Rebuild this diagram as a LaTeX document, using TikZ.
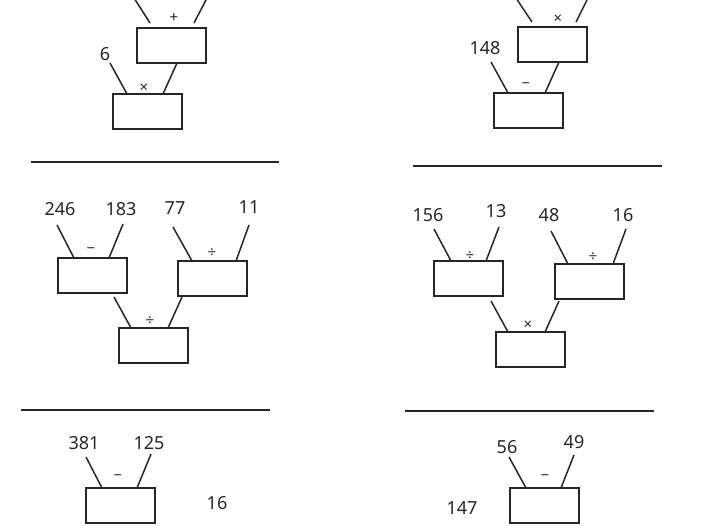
\documentclass[tikz,border=0pt]{standalone}
\usepackage{fontspec}
\setmainfont{Noto Sans}
\begin{document}
\begin{tikzpicture}[x=1pt,y=-1pt,
  numlbl/.style={font=\fontsize{18}{18}\selectfont, inner sep=0pt, text=black!85},
  oplbl/.style={font=\fontsize{15}{15}\selectfont, inner sep=0pt, text=black!85},
  ansbox/.style={draw=black!85, line width=1.7pt, minimum width=69pt, minimum height=35pt, inner sep=0pt},
  conn/.style={draw=black!85, line width=1.5pt},
  rule/.style={draw=black!85, line width=1.4pt}]
\useasboundingbox (0,0) rectangle (701,526);
\clip (0,0) rectangle (701,526);
% ---------- panel 1 ----------
\coordinate (p1a0) at (134,-2); \coordinate (p1a1) at (150,23);
\coordinate (p1b0) at (207,-2); \coordinate (p1b1) at (194,23);
\draw[conn] (p1a0) -- (p1a1); \draw[conn] (p1b0) -- (p1b1);
\node[oplbl] (op1) at (174,18) {+};
\node[ansbox] (b1) at (171.5,45.5) {};
\node[numlbl] (n6) at (105,54) {6};
\coordinate (p1c0) at (110,63); \coordinate (p1c1) at (127,94);
\coordinate (p1d0) at (177,63); \coordinate (p1d1) at (163,94);
\draw[conn] (p1c0) -- (p1c1); \draw[conn] (p1d0) -- (p1d1);
\node[oplbl] (op2) at (144,88) {×};
\node[ansbox] (b2) at (147.5,111.5) {};
\coordinate (r1a) at (31,162); \coordinate (r1b) at (279,162);
\draw[rule] (r1a) -- (r1b);
% ---------- panel 2 ----------
\coordinate (p2a0) at (516,-2); \coordinate (p2a1) at (532,22);
\coordinate (p2b0) at (588,-2); \coordinate (p2b1) at (576,22);
\draw[conn] (p2a0) -- (p2a1); \draw[conn] (p2b0) -- (p2b1);
\node[oplbl] (op3) at (558,19) {×};
\node[ansbox] (b3) at (552.5,44.5) {};
\node[numlbl] (n148) at (485,48) {148};
\coordinate (p2c0) at (491,62); \coordinate (p2c1) at (508,93);
\coordinate (p2d0) at (559,62); \coordinate (p2d1) at (545,93);
\draw[conn] (p2c0) -- (p2c1); \draw[conn] (p2d0) -- (p2d1);
\node[oplbl] (op4) at (526,86) {−};
\node[ansbox] (b4) at (528.5,110.5) {};
\coordinate (r2a) at (413,166); \coordinate (r2b) at (662,166);
\draw[rule] (r2a) -- (r2b);
% ---------- panel 3 ----------
\node[numlbl] (n246) at (60,209) {246};
\node[numlbl] (n183) at (121,209) {183};
\node[numlbl] (n77) at (175,208) {77};
\node[numlbl] (n11) at (249,207) {11};
\coordinate (p3a0) at (57,225); \coordinate (p3a1) at (74,258);
\coordinate (p3b0) at (123,224); \coordinate (p3b1) at (109,258);
\draw[conn] (p3a0) -- (p3a1); \draw[conn] (p3b0) -- (p3b1);
\node[oplbl] (op5) at (91,251) {−};
\node[ansbox] (bA) at (92.5,275.5) {};
\coordinate (p3c0) at (173,227); \coordinate (p3c1) at (192,261);
\coordinate (p3d0) at (249,225); \coordinate (p3d1) at (236,261);
\draw[conn] (p3c0) -- (p3c1); \draw[conn] (p3d0) -- (p3d1);
\node[oplbl] (op6) at (212,253) {÷};
\node[ansbox] (bB) at (212.5,278.5) {};
\coordinate (p3e0) at (114,297); \coordinate (p3e1) at (131,328);
\coordinate (p3f0) at (182,297); \coordinate (p3f1) at (168,328);
\draw[conn] (p3e0) -- (p3e1); \draw[conn] (p3f0) -- (p3f1);
\node[oplbl] (op7) at (150,321) {÷};
\node[ansbox] (bC) at (153.5,345.5) {};
\coordinate (r3a) at (21,410); \coordinate (r3b) at (270,410);
\draw[rule] (r3a) -- (r3b);
% ---------- panel 4 ----------
\node[numlbl] (n156) at (428,215) {156};
\node[numlbl] (n13) at (496,211) {13};
\node[numlbl] (n48) at (549,215) {48};
\node[numlbl] (n16a) at (623,215) {16};
\coordinate (p4a0) at (434,229); \coordinate (p4a1) at (451,261);
\coordinate (p4b0) at (499,227); \coordinate (p4b1) at (486,261);
\draw[conn] (p4a0) -- (p4a1); \draw[conn] (p4b0) -- (p4b1);
\node[oplbl] (op8) at (470,256) {÷};
\node[ansbox] (bD) at (468.5,278.5) {};
\coordinate (p4c0) at (551,231); \coordinate (p4c1) at (568,264);
\coordinate (p4d0) at (626,229); \coordinate (p4d1) at (613,264);
\draw[conn] (p4c0) -- (p4c1); \draw[conn] (p4d0) -- (p4d1);
\node[oplbl] (op9) at (593,257) {÷};
\node[ansbox] (bE) at (589.5,281.5) {};
\coordinate (p4e0) at (491,301); \coordinate (p4e1) at (508,332);
\coordinate (p4f0) at (559,301); \coordinate (p4f1) at (545,332);
\draw[conn] (p4e0) -- (p4e1); \draw[conn] (p4f0) -- (p4f1);
\node[oplbl] (op10) at (528,325) {×};
\node[ansbox] (bF) at (530.5,349.5) {};
\coordinate (r4a) at (405,411); \coordinate (r4b) at (654,411);
\draw[rule] (r4a) -- (r4b);
% ---------- panel 5 ----------
\node[numlbl] (n381) at (84,443) {381};
\node[numlbl] (n125) at (149,443) {125};
\coordinate (p5a0) at (86,457); \coordinate (p5a1) at (102,488);
\coordinate (p5b0) at (151,454); \coordinate (p5b1) at (137,488);
\draw[conn] (p5a0) -- (p5a1); \draw[conn] (p5b0) -- (p5b1);
\node[oplbl] (op11) at (118,478) {−};
\node[ansbox] (bG) at (120.5,505.5) {};
\node[numlbl] (n16b) at (217,503) {16};
% ---------- panel 6 ----------
\node[numlbl] (n56) at (507,447) {56};
\node[numlbl] (n49) at (574,442) {49};
\coordinate (p6a0) at (509,457); \coordinate (p6a1) at (526,488);
\coordinate (p6b0) at (574,455); \coordinate (p6b1) at (561,488);
\draw[conn] (p6a0) -- (p6a1); \draw[conn] (p6b0) -- (p6b1);
\node[oplbl] (op12) at (545,478) {−};
\node[ansbox] (bH) at (544.5,505.5) {};
\node[numlbl] (n147) at (462,508) {147};
\end{tikzpicture}
\end{document}
